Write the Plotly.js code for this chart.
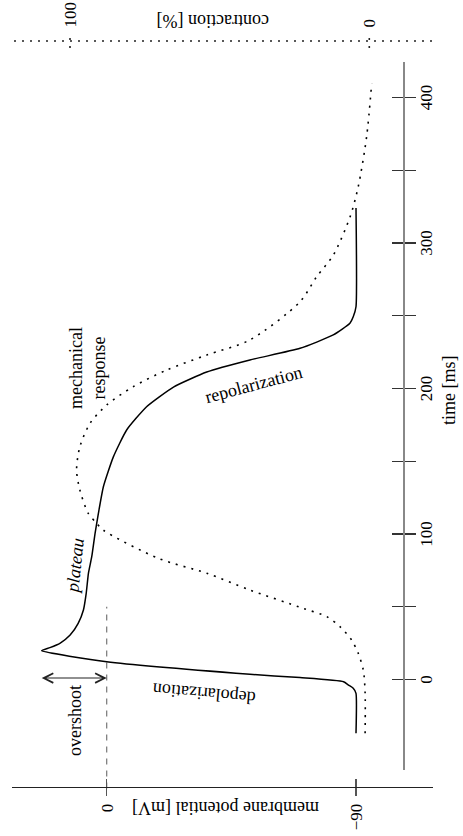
<!DOCTYPE html>
<html><head><meta charset="utf-8">
<script src="https://cdn.plot.ly/plotly-3.0.1.min.js"></script>
<style>
html,body{margin:0;padding:0;background:#fff;overflow:hidden}
#wrap{position:relative;width:463px;height:836px;overflow:hidden;background:#fff}
#chart{position:absolute;left:0;top:0;width:836px;height:463px;transform-origin:0 0;transform:translateY(836px) rotate(-90deg)}
</style></head><body><div id="wrap"><div id="chart"></div></div>
<script>
// ---- data ----
const potTime  = [-37, -9.5, -6, -3.8, -1.5, 1.3, 3.6, 12.2, 19.8, 21.9, 24.9, 30.6, 38.6, 47.8, 59.2, 73, 84.4, 100.5, 114.2, 132.5, 153, 171.5, 187.5, 201, 211.3, 219.6, 227.6, 236.8, 244.8, 249.3, 256.2, 324];
const potValue = [-90, -90, -89, -87.3, -85.5, -69.8, -51.7, 0, 23.5, 20.5, 16.9, 13.2, 10.3, 8.4, 7.4, 6.6, 5.4, 4.2, 3.0, 1.2, -2.4, -7.2, -14.4, -24.1, -36.1, -51.7, -69.8, -81.8, -87.8, -89, -90, -90];
const mechTime  = [-37, -9.3, 6.5, 18, 27.1, 36.3, 43.2, 48.9, 61.5, 73, 83.3, 102.7, 107.4, 114.2, 130.2, 144, 160, 176.1, 188.7, 201.2, 212.7, 223, 233.4, 259.5, 276.8, 291.8, 318.1, 338.7, 373, 409.8];
const mechValue = [1.4, 1.4, 2.0, 3.7, 5.9, 9.8, 14.2, 22.1, 39.9, 54.3, 70.5, 88.9, 91.1, 93.9, 96.7, 97.8, 96.7, 93.3, 87.7, 78.9, 67.7, 54.3, 39.9, 23.2, 17.6, 12.0, 6.4, 3.7, 0.9, -0.8];
const zeroLineTime  = [-75, 50];
const zeroLineLevel = [0, 0];
const overshootTime  = [1, 1];
const overshootLevel = [0, 24];
const timeTicks    = [0, 50, 100, 150, 200, 250, 300, 350, 400];
const timeTickText = ['0', '', '100', '', '200', '', '300', '', '400'];
const potTicks     = [-90, 0];
const potTickText  = ['\u221290', '0'];
const contrTicks    = [0, 100];
const contrTickText = ['0', '100'];

// ---- frame geometry (unrotated frame, 836 x 463) ----
const W = 836, H = 463;
const tAt = X => (X - 156.5) / 1.455;   // time at frame x
const vAt = Y => (106.7 - Y) / 2.77;    // potential at frame y
const cAt = Y => (369.3 - Y) / 2.993;   // contraction at frame y
const px = X => X / W, py = Y => 1 - Y / H;
const FONT = 'Liberation Serif, Times New Roman, serif';

const traces = [
  {x: zeroLineTime, y: zeroLineLevel, xaxis: 'x', yaxis: 'y', mode: 'lines',
   line: {color: '#777', width: 1.2, dash: '6px,6px'}, hoverinfo: 'skip'},
  {x: potTime, y: potValue, xaxis: 'x', yaxis: 'y', mode: 'lines',
   line: {color: '#000', width: 1.5, shape: 'spline', smoothing: 0.5}, hoverinfo: 'skip'},
  {x: mechTime, y: mechValue, xaxis: 'x', yaxis: 'y2', mode: 'lines',
   line: {color: '#000', width: 1.6, dash: '2px,6px', shape: 'spline', smoothing: 0.8}, hoverinfo: 'skip'},
  {x: [], y: [], xaxis: 'x2', yaxis: 'y3', mode: 'lines', hoverinfo: 'skip'},
  {x: [], y: [], xaxis: 'x3', yaxis: 'y3', mode: 'lines', hoverinfo: 'skip'},
  {x: [], y: [], xaxis: 'x2', yaxis: 'y4', mode: 'lines', hoverinfo: 'skip'}
];

const dotted = {color: '#222', width: 1.6, dash: '2px,6px'};
const shapes = [
  {type: 'line', xref: 'paper', yref: 'paper', x0: px(795), x1: px(795), y0: py(432), y1: py(13), line: dotted}
].concat(contrTicks.map(c => ({type: 'line', xref: 'paper', yref: 'y2', x0: px(788), x1: px(803), y0: c, y1: c, line: dotted})));

const ann = (o) => Object.assign({showarrow: false, font: {family: FONT, size: 18, color: '#000'}, xanchor: 'center', yanchor: 'middle'}, o);
const annotations = [
  ann({xref: 'paper', yref: 'paper', x: px(446), y: py(449), text: 'time [ms]'}),
  ann({xref: 'paper', yref: 'paper', x: px(28), y: py(226), text: 'membrane potential [mV]', textangle: -90}),
  ann({xref: 'paper', yref: 'paper', x: px(814.5), y: py(213.5), text: 'contraction [%]', textangle: -90}),
  ann({xref: 'x', yref: 'y', x: -28.5, y: 11.4, text: 'overshoot'}),
  ann({xref: 'x', yref: 'y', x: -10, y: -35, text: 'depolarization', textangle: -85}),
  ann({xref: 'x', yref: 'y', x: 78, y: 11.4, text: '<i>plateau</i>', textangle: 6}),
  ann({xref: 'x', yref: 'y', x: 214, y: 6.8, text: 'mechanical<br>response', align: 'center'}),
  ann({xref: 'x', yref: 'y', x: 203, y: -53, text: 'repolarization', textangle: 75}),
  {xref: 'x', yref: 'y', axref: 'x', ayref: 'y', x: overshootTime[0], y: overshootLevel[0],
   ax: overshootTime[1], ay: overshootLevel[1], text: '', showarrow: true, arrowside: 'end+start',
   arrowhead: 5, startarrowhead: 5, arrowsize: 1.7, startarrowsize: 1.7, arrowwidth: 1.1, arrowcolor: '#222', standoff: 0, startstandoff: 0}
];

const axBase = {showgrid: false, zeroline: false, fixedrange: true};
const layout = {
  width: W, height: H, margin: {l: 0, r: 0, t: 0, b: 0},
  paper_bgcolor: '#fff', plot_bgcolor: 'rgba(0,0,0,0)', showlegend: false,
  font: {family: FONT, size: 18, color: '#000'},
  xaxis: Object.assign({}, axBase, {domain: [0, 1], range: [tAt(0), tAt(W)], visible: false}),
  yaxis: Object.assign({}, axBase, {domain: [0, 1], range: [vAt(H), vAt(0)], visible: false}),
  yaxis2: Object.assign({}, axBase, {overlaying: 'y', range: [cAt(H), cAt(0)], anchor: 'free', position: px(795), side: 'right',
    showline: false, ticks: 'outside', ticklen: 9, tickcolor: 'rgba(0,0,0,0)', tickmode: 'array', tickvals: contrTicks, ticktext: contrTickText,
    tickfont: {family: FONT, size: 17}}),
  xaxis2: Object.assign({}, axBase, {domain: [px(66), px(774)], range: [tAt(66), tAt(774)], anchor: 'free', position: py(403),
    showline: true, linecolor: '#888', linewidth: 1.5, ticks: 'outside', ticklen: 11, tickwidth: 1.2, tickcolor: '#333',
    ticklabelstandoff: -4,
    tickmode: 'array', tickvals: timeTicks, ticktext: timeTickText, tickfont: {family: FONT, size: 17}}),
  xaxis3: Object.assign({}, axBase, {overlaying: 'x2', range: [tAt(66), tAt(774)], anchor: 'free', position: py(403),
    showline: false, ticks: 'inside', ticklen: 11, tickwidth: 1.2, tickcolor: '#333', tickmode: 'array', tickvals: timeTicks, showticklabels: false}),
  yaxis3: Object.assign({}, axBase, {domain: [py(433), py(12)], range: [vAt(433), vAt(12)], anchor: 'free', position: px(47.7), side: 'left',
    showline: true, linecolor: '#222', linewidth: 1.2, ticks: 'outside', ticklen: 8, tickwidth: 1.2, tickcolor: '#555',
    ticklabelstandoff: 4,
    tickmode: 'array', tickvals: potTicks, ticktext: potTickText, tickfont: {family: FONT, size: 17}}),
  yaxis4: Object.assign({}, axBase, {overlaying: 'y3', range: [vAt(433), vAt(12)], anchor: 'free', position: px(47.7), side: 'left',
    showline: false, ticks: 'inside', ticklen: 8, tickwidth: 1.2, tickcolor: '#555', tickmode: 'array', tickvals: potTicks, showticklabels: false}),
  shapes: shapes,
  annotations: annotations
};

Plotly.newPlot('chart', traces, layout, {staticPlot: true, displayModeBar: false, responsive: false});
</script></body></html>
